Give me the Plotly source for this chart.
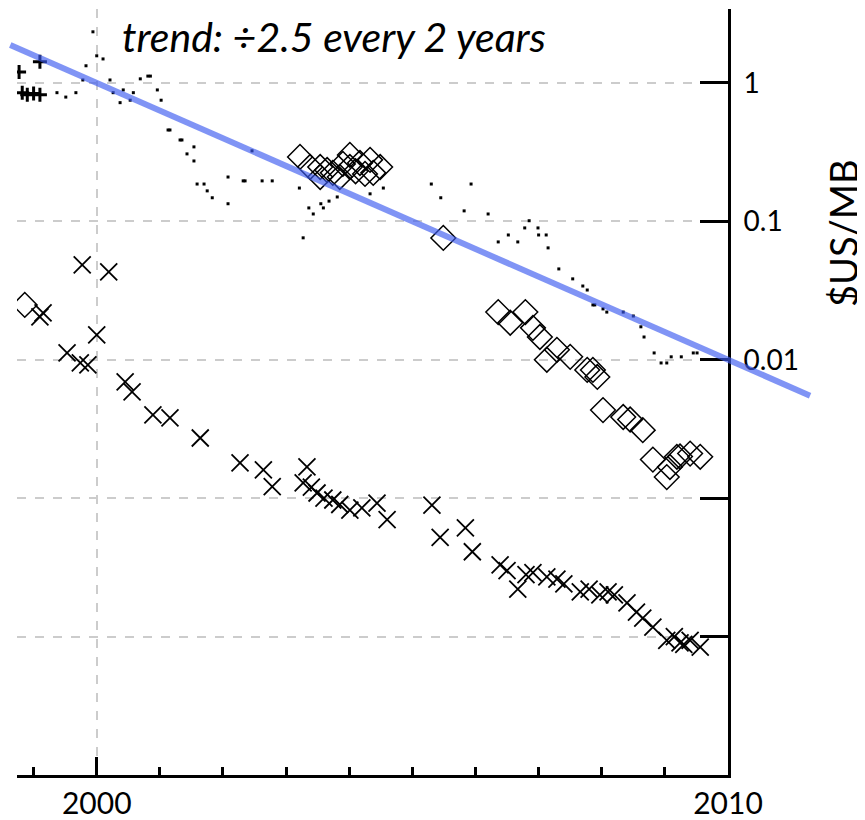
import plotly.graph_objects as go

# ---------------- data ----------------
plus_year = [1998.77, 1999.10, 1998.90, 1999.10, 1998.82, 1999.00]
plus_val = [1.20, 1.42, 0.82, 0.82, 0.85, 0.84]

dot_year = [1999.94, 2000.00, 2000.10, 1999.83, 1999.78, 2000.21, 1999.37, 1999.51, 1999.67,
            2000.26, 2000.42, 2000.37, 2000.53, 2000.58, 2000.69, 2000.81, 2000.85, 2000.96,
            2001.02, 2001.13, 2001.16, 2001.32, 2001.35, 2001.54, 2001.43, 2001.54, 2001.59,
            2001.70, 2001.75, 2001.83, 2002.08, 2002.08, 2002.32, 2002.35, 2002.62, 2002.78,
            2002.46, 2003.21, 2003.36, 2003.43, 2003.27, 2003.55, 2003.68, 2003.59, 2003.81,
            2004.33, 2004.54, 2005.30, 2005.45, 2005.93, 2005.82, 2006.20, 2006.36, 2006.52,
            2006.67, 2006.85, 2006.78, 2006.99, 2007.00, 2007.12, 2007.15, 2007.32, 2007.54,
            2007.70, 2007.77, 2007.86, 2007.89, 2008.02, 2008.08, 2008.34, 2008.50, 2008.62,
            2008.67, 2008.83, 2008.94, 2009.03, 2009.10, 2009.26, 2009.45, 2009.51]
dot_val = [2.34, 1.57, 1.49, 1.33, 1.05, 1.05, 0.85, 0.79, 0.85,
           0.85, 0.89, 0.72, 0.75, 0.85, 1.07, 1.12, 1.12, 0.89,
           0.75, 0.457, 0.457, 0.387, 0.387, 0.345, 0.307, 0.273, 0.186,
           0.186, 0.166, 0.148, 0.134, 0.209, 0.196, 0.196, 0.196, 0.196,
           0.323, 0.174, 0.125, 0.113, 0.076, 0.134, 0.140, 0.125, 0.150,
           0.158, 0.174, 0.186, 0.148, 0.186, 0.119, 0.113, 0.071, 0.0797,
           0.071, 0.101, 0.0896, 0.0896, 0.0797, 0.0797, 0.0643, 0.0453, 0.0384,
           0.0341, 0.0319, 0.0249, 0.0249, 0.0233, 0.0221, 0.0221, 0.0207, 0.0173,
           0.0146, 0.0112, 0.00948, 0.00948, 0.0105, 0.0105, 0.0112, 0.0112]

diamond_year = [1998.86,
                2003.22, 2003.38, 2003.54, 2003.54, 2003.65, 2003.74, 2003.85, 2004.01,
                2004.01, 2004.17, 2004.33, 2004.49, 2004.38, 2003.90, 2004.10, 2004.25,
                2005.49,
                2006.36, 2006.79, 2006.55, 2006.91, 2007.02, 2007.13, 2007.29, 2007.50,
                2007.77, 2007.93, 2007.86, 2008.02, 2008.45, 2008.34, 2008.65, 2008.81,
                2009.08, 2009.19, 2009.40, 2009.56, 2009.03, 2009.24]
diamond_val = [0.0249,
               0.292, 0.247, 0.209, 0.247, 0.235, 0.224, 0.209, 0.302,
               0.247, 0.264, 0.278, 0.247, 0.224, 0.26, 0.23, 0.22,
               0.0759,
               0.0221, 0.0221, 0.0185, 0.0170, 0.0146, 0.0100, 0.0118, 0.0105,
               0.00844, 0.00751, 0.00844, 0.00433, 0.0037, 0.00386, 0.0031, 0.0019,
               0.00168, 0.00199, 0.0021, 0.00199, 0.00142, 0.0020]

cross_year = [1999.77, 2000.19,
              1999.15, 1999.10, 2000.00, 1999.53, 1999.86, 1999.74, 2000.45, 2000.56,
              2000.89, 2001.16, 2001.64, 2002.27, 2002.64, 2002.78, 2003.33, 2003.27,
              2003.49, 2003.74, 2004.01, 2004.44, 2004.60, 2005.31, 2005.44, 2005.84,
              2005.95, 2006.39, 2006.67, 2006.91, 2007.13, 2007.29, 2007.66, 2007.97,
              2008.10, 2008.40, 2008.65, 2008.81, 2009.03, 2009.24, 2009.40, 2009.56,
              2003.40, 2003.60, 2003.85, 2004.20, 2006.50, 2006.80, 2007.40, 2007.80,
              2008.20, 2008.55, 2009.15, 2009.30]
cross_val = [0.0484, 0.0431,
             0.0218, 0.0204, 0.0151, 0.0112, 0.00917, 0.0095, 0.00691, 0.00585,
             0.0040, 0.0038, 0.00272, 0.0018, 0.0016, 0.00121, 0.00168, 0.00129,
             0.00109, 0.00097, 0.00082, 0.00092, 0.00070, 0.00089, 0.00052, 0.00061,
             0.00041, 0.00033, 0.00022, 0.00029, 0.00027, 0.00026, 0.00021, 0.00020,
             0.00021, 0.000175, 0.000136, 0.000117, 0.000094, 0.000090, 0.000094, 0.000084,
             0.0012, 0.0010, 0.0009, 0.00085, 0.0003, 0.00028, 0.00024, 0.00022,
             0.0002, 0.00015, 0.0001, 0.000088]

trend_year = [1998.63, 2011.30]
trend_val = [1.88, 0.0055]

y_tickvals = [1, 0.1, 0.01, 0.001, 0.0001]
y_ticktext = ["1", "0.1", "0.01", "", ""]
x_tickvals = [2000, 2010]
x_ticktext = ["2000", "2010"]

# ---------------- figure ----------------
# the page body has an 8px margin: the figure starts 8px in and runs to the window edge
OFF = 8
W, H = 865 - OFF, 820 - OFF
FONT = "Lato"


def px(v):  # reference-window pixel -> figure pixel
    return v - OFF


fig = go.Figure()

fig.add_trace(go.Scatter(x=dot_year, y=dot_val, mode="markers",
                         marker=dict(symbol="square", size=3, color="black"),
                         xaxis="x", yaxis="y", showlegend=False))
fig.add_trace(go.Scatter(x=plus_year, y=plus_val, mode="markers",
                         marker=dict(symbol="cross-thin-open", size=10, color="black",
                                     line=dict(color="black", width=3)),
                         xaxis="x", yaxis="y", showlegend=False))
fig.add_trace(go.Scatter(x=diamond_year, y=diamond_val, mode="markers",
                         marker=dict(symbol="diamond-open", size=19, color="black",
                                     line=dict(color="black", width=1.5)),
                         xaxis="x", yaxis="y", showlegend=False))
fig.add_trace(go.Scatter(x=cross_year, y=cross_val, mode="markers",
                         marker=dict(symbol="x-thin-open", size=17, color="black",
                                     line=dict(color="black", width=1.8)),
                         xaxis="x", yaxis="y", showlegend=False))

# trend line on a wider, hidden axis pair so it can run past the plot frame
fig.add_trace(go.Scatter(x=trend_year, y=trend_val, mode="lines",
                         line=dict(color="rgba(60,90,240,0.65)", width=6),
                         xaxis="x2", yaxis="y2", showlegend=False))

left, right, top, bottom = px(17), px(728), px(9), px(775)
x_dom = [left / W, right / W]
y_dom = [(H - bottom) / H, (H - top) / H]
x_range = [1998.737, 2010]
ppy = (right - left) / (x_range[1] - x_range[0])
x2_range = [x_range[0] - left / ppy, x_range[0] + (W - left) / ppy]
y_range = [-5, 0.534]

fig.update_layout(
    template="none",
    width=W, height=H,
    autosize=False,
    margin=dict(l=0, r=0, t=0, b=0, pad=0),
    paper_bgcolor="white",
    plot_bgcolor="rgba(0,0,0,0)",
    font=dict(family=FONT, color="black"),
    showlegend=False,
    xaxis=dict(
        domain=x_dom, range=x_range, anchor="y", automargin=False,
        tickmode="array", tickvals=x_tickvals, ticktext=x_ticktext,
        ticks="inside", ticklen=18, tickwidth=3, tickcolor="black",
        tickfont=dict(family=FONT, size=30, color="black"),
        ticklabelstandoff=0,
        showline=True, linewidth=3, linecolor="black",
        showgrid=True, gridcolor="#cccccc", gridwidth=2, griddash="dash",
        zeroline=False,
        minor=dict(dtick=1, tick0=2000, ticks="inside", ticklen=8,
                   tickwidth=3, tickcolor="black", showgrid=False),
    ),
    yaxis=dict(
        domain=y_dom, type="log", range=y_range, anchor="x", side="right",
        automargin=False,
        tickmode="array", tickvals=y_tickvals, ticktext=y_ticktext,
        ticks="inside", ticklen=28, tickwidth=3, tickcolor="black",
        tickfont=dict(family=FONT, size=28, color="black"),
        ticklabelstandoff=7,
        showline=True, linewidth=3, linecolor="black",
        showgrid=True, gridcolor="#cccccc", gridwidth=2, griddash="dash",
        zeroline=False,
    ),
    xaxis2=dict(domain=[0, 1], range=x2_range, anchor="y2", visible=False,
                automargin=False),
    yaxis2=dict(domain=y_dom, type="log", range=y_range, anchor="x2", visible=False,
                automargin=False),
    annotations=[
        dict(text="<i>trend: ÷2.5 every 2 years</i>", xref="paper", yref="paper",
             x=px(334) / W, y=(H - px(37)) / H, xanchor="center", yanchor="middle",
             showarrow=False, font=dict(family=FONT, size=41, color="black")),
        dict(text="$US/MB", xref="paper", yref="paper",
             x=px(843) / W, y=(H - px(233)) / H, xanchor="center", yanchor="middle",
             textangle=-90, showarrow=False,
             font=dict(family=FONT, size=38, color="black")),
    ],
)

fig.write_html("out.html", config={"responsive": False})
